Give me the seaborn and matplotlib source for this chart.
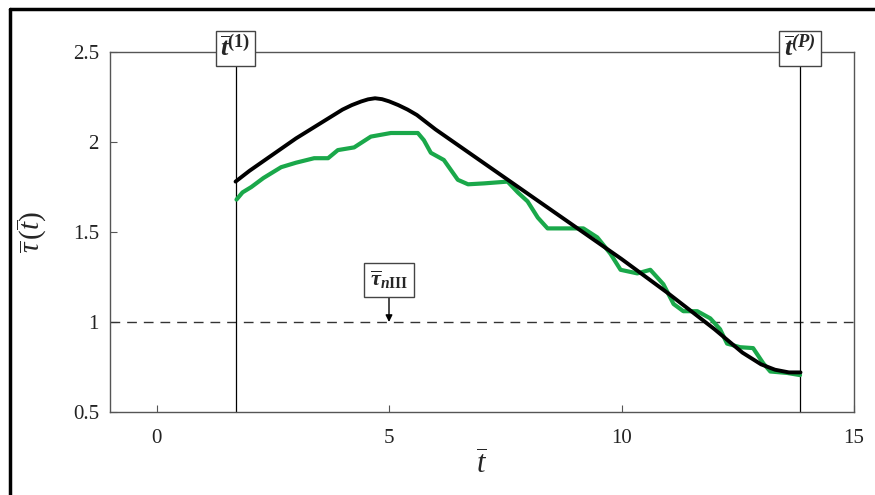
import matplotlib
matplotlib.use("Agg")
import matplotlib.pyplot as plt
from matplotlib.lines import Line2D
import seaborn as sns
import pandas as pd

# --- data ---
black_x = [1.7, 2.0, 2.5, 3.0, 3.5, 4.0, 4.2, 4.4, 4.55, 4.7, 4.85, 5.0, 5.2, 5.4,
           5.6, 6.0, 7.0, 8.0, 9.0, 10.0, 11.0, 12.0, 12.6, 13.0, 13.3, 13.6, 13.85]
black_y = [1.78, 1.84, 1.93, 2.02, 2.10, 2.18, 2.205, 2.225, 2.237, 2.243, 2.238,
           2.226, 2.205, 2.18, 2.15, 2.07, 1.89, 1.71, 1.53, 1.35, 1.16, 0.96,
           0.83, 0.765, 0.735, 0.72, 0.72]

green_x = [1.72, 1.85, 2.04, 2.3, 2.68, 3.0, 3.39, 3.69, 3.9, 4.25, 4.61, 5.04, 5.62,
           5.75, 5.9, 6.18, 6.48, 6.7, 7.04, 7.55, 7.77, 7.98, 8.2, 8.41, 8.84, 9.18,
           9.48, 9.76, 9.98, 10.34, 10.62, 10.9, 11.12, 11.33, 11.63, 11.91, 12.12,
           12.27, 12.55, 12.83, 13.05, 13.2, 13.56, 13.84]
green_y = [1.68, 1.72, 1.75, 1.80, 1.86, 1.885, 1.91, 1.91, 1.955, 1.97, 2.03, 2.05,
           2.05, 2.01, 1.94, 1.90, 1.79, 1.765, 1.77, 1.78, 1.72, 1.67, 1.58, 1.52,
           1.52, 1.52, 1.47, 1.38, 1.29, 1.27, 1.29, 1.21, 1.10, 1.06, 1.06, 1.02,
           0.96, 0.88, 0.86, 0.855, 0.77, 0.725, 0.717, 0.705]

t_first = 1.7
t_last = 13.84
tau_n3 = 1.0
x_ticks = [0, 5, 10, 15]
y_ticks = [0.5, 1, 1.5, 2, 2.5]
x_ticklabels = ["0", "5", "10", "15"]
y_ticklabels = ["0.5", "1", "1.5", "2", "2.5"]

sns.set_theme(style="white")
plt.rcParams["font.family"] = ["Liberation Serif", "DejaVu Serif"]
plt.rcParams["mathtext.fontset"] = "custom"
plt.rcParams["mathtext.rm"] = "Liberation Serif"
plt.rcParams["mathtext.it"] = "Liberation Serif:italic"
plt.rcParams["mathtext.bf"] = "Liberation Serif:bold:italic"
plt.rcParams["mathtext.sf"] = "Liberation Serif:bold"

fig = plt.figure(figsize=(8.75, 4.95), dpi=100)
ax = fig.add_axes([110/875, 1-412/495, (854-110)/875, (412-52)/495])

df_b = pd.DataFrame({"t": black_x, "tau": black_y})
df_g = pd.DataFrame({"t": green_x, "tau": green_y})
sns.lineplot(data=df_g, x="t", y="tau", ax=ax, color="#1aa84a", lw=3.0,
             sort=False, estimator=None, zorder=3)
sns.lineplot(data=df_b, x="t", y="tau", ax=ax, color="black", lw=2.8,
             sort=False, estimator=None, zorder=4)

ax.axhline(tau_n3, color="#333333", lw=1.0, ls=(0, (7, 5)), zorder=2)
for tv in (t_first, t_last):
    ax.plot([tv, tv], [0.5, 2.52], color="black", lw=0.9, zorder=2, clip_on=False)

ax.set_xlim(-1, 15)
ax.set_ylim(0.5, 2.5)
ax.set_xticks(x_ticks)
ax.set_xticklabels(x_ticklabels)
ax.set_yticks(y_ticks)
ax.set_yticklabels(y_ticklabels)
ax.tick_params(direction="in", length=5, width=0.8, colors="#555555",
               labelcolor="#222222", labelsize=15,
               bottom=True, left=True, top=False, right=False)
ax.tick_params(axis="x", pad=12)
ax.tick_params(axis="y", pad=8)
for s in ax.spines.values():
    s.set_color("#555555")
    s.set_linewidth(1.0)

ax.set_xlabel(r"$\overline{t}$", fontsize=22, labelpad=2)
ax.set_ylabel(r"$\overline{\tau}\,(\overline{t})$", fontsize=21, labelpad=18)

box = dict(boxstyle="square,pad=0.18", fc="white", ec="#444444", lw=1.0)
ax.text(t_first, 2.52, r"$\overline{\mathbf{t}}^{\mathsf{(1)}}$", fontsize=19,
        ha="center", va="center", bbox=box, zorder=6, clip_on=False)
ax.text(t_last, 2.52, r"$\overline{\mathbf{t}}^{\mathbf{(P)}}$", fontsize=19,
        ha="center", va="center", bbox=box, zorder=6, clip_on=False)
ax.annotate(r"$\overline{\mathbf{\tau}}_{\mathbf{n}\mathsf{III}}$",
            xy=(5, tau_n3), xytext=(5, 1.235), fontsize=16,
            ha="center", va="center",
            bbox=dict(boxstyle="square,pad=0.25", fc="white", ec="#444444", lw=1.0),
            zorder=6,
            arrowprops=dict(arrowstyle="-|>", color="black", lw=1.0,
                            mutation_scale=10, shrinkA=0, shrinkB=0))

# outer frame (left and top)
fig.add_artist(Line2D([10/875, 10/875], [0, 1-8.5/495], color="black", lw=2.5,
                      transform=fig.transFigure))
fig.add_artist(Line2D([10/875, 1], [1-8.5/495, 1-8.5/495], color="black", lw=2.5,
                      transform=fig.transFigure))

fig.savefig("out.png", dpi=100)
